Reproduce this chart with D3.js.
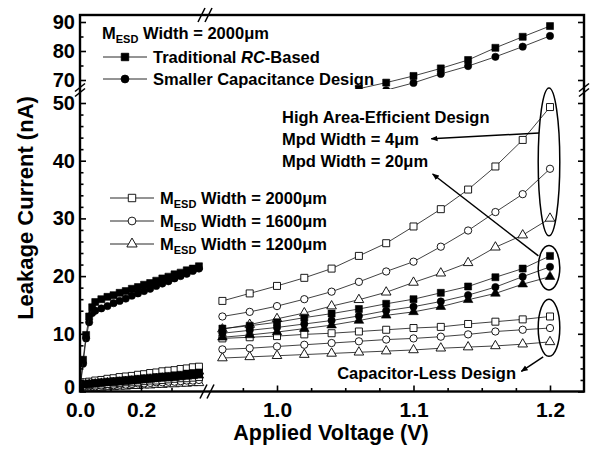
<!DOCTYPE html>
<html>
<head>
<meta charset="utf-8">
<script src="https://cdn.jsdelivr.net/npm/d3@7"></script>
<style>
body { margin: 0; background: #fff; }
svg { display: block; font-family: "Liberation Sans", Arial, sans-serif; font-weight: bold; }
</style>
</head>
<body>
<svg id="chart" width="594" height="449"></svg>
<script>
"use strict";

// ---- data (V, nA) ----
// right part of the x axis (0.96 .. 1.2 V)
const vRight = [0.96, 0.98, 1.00, 1.02, 1.04, 1.06, 1.08, 1.10, 1.12, 1.14, 1.16, 1.18, 1.20];
// left part of the x axis (0 .. 0.4 V)
const vLeftLow = [0.01, 0.03, 0.05, 0.07, 0.09, 0.11, 0.13, 0.15, 0.17, 0.19, 0.21, 0.23, 0.25, 0.27, 0.29, 0.31, 0.33, 0.35, 0.37, 0.39];
const vLeftTop = [0.00, 0.01, 0.02, 0.03, 0.04, 0.05, 0.07, 0.09, 0.11, 0.13, 0.15, 0.17, 0.19, 0.21, 0.23, 0.25, 0.27, 0.29, 0.31, 0.33, 0.35, 0.37, 0.39];
// upper (broken) part, only points above ~67 nA show
const vRcUpper = [1.06, 1.08, 1.10, 1.12, 1.14, 1.16, 1.18, 1.20];
const vScUpper = [1.08, 1.10, 1.12, 1.14, 1.16, 1.18, 1.20];

// high area-efficient design, Mpd width = 4um (open markers)
const mpd4_2000_L = [1.6, 1.7, 1.9, 2.0, 2.2, 2.3, 2.5, 2.6, 2.7, 2.9, 3.0, 3.2, 3.3, 3.5, 3.6, 3.7, 3.9, 4.0, 4.2, 4.3];
const mpd4_1600_L = [1.4, 1.5, 1.7, 1.8, 1.9, 2.1, 2.2, 2.3, 2.4, 2.6, 2.7, 2.8, 3.0, 3.1, 3.2, 3.4, 3.5, 3.6, 3.8, 3.9];
const mpd4_1200_L = [1.3, 1.4, 1.5, 1.6, 1.8, 1.9, 2.0, 2.1, 2.2, 2.3, 2.5, 2.6, 2.7, 2.8, 2.9, 3.0, 3.2, 3.3, 3.4, 3.5];
const mpd4_2000_R = [15.7, 17.0, 18.3, 19.7, 21.3, 23.5, 25.7, 28.6, 31.6, 35.0, 39.0, 43.6, 49.3];
const mpd4_1600_R = [13.0, 13.8, 14.8, 16.0, 17.3, 19.0, 20.8, 22.5, 25.1, 27.9, 31.1, 34.2, 38.6];
const mpd4_1200_R = [10.8, 11.6, 12.6, 13.6, 14.8, 15.9, 17.2, 18.9, 20.5, 22.3, 25.0, 27.1, 30.0];

// high area-efficient design, Mpd width = 20um (filled markers)
const mpd20_2000_L = [1.3, 1.4, 1.5, 1.6, 1.7, 1.8, 1.9, 2.0, 2.1, 2.2, 2.3, 2.4, 2.5, 2.6, 2.7, 2.8, 2.9, 3.1, 3.2, 3.3];
const mpd20_1600_L = [1.2, 1.3, 1.4, 1.5, 1.6, 1.7, 1.8, 1.9, 1.9, 2.0, 2.1, 2.2, 2.3, 2.4, 2.5, 2.6, 2.7, 2.8, 2.9, 3.0];
const mpd20_1200_L = [1.1, 1.2, 1.3, 1.4, 1.5, 1.5, 1.6, 1.7, 1.8, 1.9, 2.0, 2.1, 2.2, 2.3, 2.3, 2.4, 2.5, 2.6, 2.7, 2.8];
const mpd20_2000_R = [10.9, 11.4, 12.0, 12.8, 13.5, 14.3, 15.2, 16.0, 17.1, 18.2, 19.8, 21.3, 23.5];
const mpd20_1600_R = [10.1, 10.6, 11.1, 11.7, 12.3, 13.1, 14.0, 14.7, 15.6, 16.7, 18.1, 19.9, 21.6];
const mpd20_1200_R = [9.4, 9.8, 10.3, 10.9, 11.5, 12.3, 13.2, 13.8, 14.7, 15.9, 17.0, 18.6, 19.9];

// capacitor-less design (open markers)
const capless_2000_L = [1.0, 1.1, 1.2, 1.2, 1.3, 1.4, 1.5, 1.6, 1.6, 1.7, 1.8, 1.9, 1.9, 2.0, 2.1, 2.2, 2.3, 2.3, 2.4, 2.5];
const capless_1600_L = [0.8, 0.9, 0.9, 1.0, 1.0, 1.1, 1.2, 1.2, 1.3, 1.4, 1.4, 1.5, 1.6, 1.6, 1.7, 1.7, 1.8, 1.9, 1.9, 2.0];
const capless_1200_L = [0.6, 0.6, 0.7, 0.7, 0.8, 0.8, 0.9, 0.9, 1.0, 1.0, 1.1, 1.1, 1.2, 1.2, 1.3, 1.3, 1.4, 1.4, 1.5, 1.5];
const capless_2000_R = [9.2, 9.4, 9.6, 9.9, 10.1, 10.4, 10.7, 11.0, 11.2, 11.7, 12.1, 12.5, 13.0];
const capless_1600_R = [7.3, 7.5, 7.8, 8.1, 8.4, 8.7, 9.0, 9.2, 9.5, 9.9, 10.4, 10.7, 11.0];
const capless_1200_R = [5.8, 6.0, 6.2, 6.4, 6.6, 6.8, 7.0, 7.2, 7.5, 7.7, 7.9, 8.2, 8.6];

// M_ESD = 2000um: traditional RC-based and smaller capacitance design
const rcBased_L = [0.4, 5.5, 9.8, 13.0, 14.6, 15.5, 16.0, 16.4, 16.7, 17.1, 17.4, 17.8, 18.1, 18.5, 18.8, 19.2, 19.6, 19.9, 20.3, 20.6, 21.0, 21.3, 21.7];
const smallCap_L = [0.3, 4.8, 9.2, 12.0, 13.6, 14.0, 14.4, 14.8, 15.3, 15.7, 16.1, 16.6, 17.0, 17.4, 17.8, 18.3, 18.7, 19.1, 19.6, 20.0, 20.4, 20.9, 21.3];
const rcBased_U = [67.0, 69.1, 71.4, 74.0, 76.9, 81.1, 84.9, 88.6];
const smallCap_U = [66.5, 69.0, 72.1, 74.8, 78.0, 81.5, 85.2];

// tick values
const yTicksLow = [0, 10, 20, 30, 40, 50];
const yMinorLow = [2, 4, 6, 8, 12, 14, 16, 18, 22, 24, 26, 28, 32, 34, 36, 38, 42, 44, 46, 48];
const yTicksUp = [70, 80, 90];
const yMinorUp = [75, 85];
const xTicksLeft = [0.0, 0.2];
const xMinorLeft = [0.1, 0.3];
const xTicksRight = [1.0, 1.1, 1.2];
const xMinorRight = [0.975, 1.025, 1.05, 1.075, 1.125, 1.15, 1.175];

// ---- layout ----
const plotLeft = 80, plotRight = 584, plotTop = 15, plotBottom = 391.5;
const upperBottom = 89, lowerTop = 93;

const svg = d3.select("#chart");
svg.append("rect").attr("width", 594).attr("height", 449).attr("fill", "#fff");

const xL = d3.scaleLinear().domain([0, 0.2]).range([80, 141]);
const xR = d3.scaleLinear().domain([1.0, 1.2]).range([277, 550]);
const yLow = d3.scaleLinear().domain([0, 50]).range([plotBottom, 103]);
const yUp = d3.scaleLinear().domain([70, 90]).range([80, 22]);

// clip regions for the two y parts
const defs = svg.append("defs");
defs.append("clipPath").attr("id", "clipLow").append("rect")
    .attr("x", plotLeft).attr("y", lowerTop)
    .attr("width", plotRight - plotLeft).attr("height", plotBottom - lowerTop);
defs.append("clipPath").attr("id", "clipUp").append("rect")
    .attr("x", plotLeft).attr("y", plotTop)
    .attr("width", plotRight - plotLeft).attr("height", upperBottom - plotTop);
defs.append("marker").attr("id", "arrowHead")
    .attr("viewBox", "0 0 10 10").attr("refX", 9).attr("refY", 5)
    .attr("markerWidth", 7).attr("markerHeight", 7).attr("markerUnits", "userSpaceOnUse")
    .attr("orient", "auto")
    .append("path").attr("d", "M0,1 L10,5 L0,9 Z").attr("fill", "#000");

const symbolOf = { square: d3.symbolSquare, circle: d3.symbolCircle, triangle: d3.symbolTriangle };
const sizeOf = { square: 49, circle: 42, triangle: 40 };

// draw one series part: thin line plus markers
function drawPart(g, xs, ys, xScale, yScale, marker, filled) {
    let pts = xs.map(function (v, i) { return [v, ys[i]] });
    g.append("path")
        .datum(pts)
        .attr("fill", "none")
        .attr("stroke", "#111")
        .attr("stroke-width", 0.8)
        .attr("d", d3.line()
            .x(function (d) { return xScale(d[0]) })
            .y(function (d) { return yScale(d[1]) })
        );
    g.selectAll(null)
        .data(pts)
        .enter().append("path")
        .attr("transform", function (d) { return "translate(" + xScale(d[0]) + "," + yScale(d[1]) + ")" })
        .attr("d", d3.symbol().type(symbolOf[marker]).size(sizeOf[marker]))
        .attr("fill", filled ? "#000" : "#fff")
        .attr("stroke", "#000")
        .attr("stroke-width", filled ? 0.6 : 0.9);
}

const lowG = svg.append("g").attr("clip-path", "url(#clipLow)");
const upG = svg.append("g").attr("clip-path", "url(#clipUp)");

// open series first, filled on top
const lowSeries = [
    { m: "triangle", f: false, l: capless_1200_L, r: capless_1200_R },
    { m: "circle", f: false, l: capless_1600_L, r: capless_1600_R },
    { m: "square", f: false, l: capless_2000_L, r: capless_2000_R },
    { m: "triangle", f: false, l: mpd4_1200_L, r: mpd4_1200_R },
    { m: "circle", f: false, l: mpd4_1600_L, r: mpd4_1600_R },
    { m: "square", f: false, l: mpd4_2000_L, r: mpd4_2000_R },
    { m: "triangle", f: true, l: mpd20_1200_L, r: mpd20_1200_R },
    { m: "circle", f: true, l: mpd20_1600_L, r: mpd20_1600_R },
    { m: "square", f: true, l: mpd20_2000_L, r: mpd20_2000_R }
];
lowSeries.forEach(function (s) {
    drawPart(lowG, vLeftLow, s.l, xL, yLow, s.m, s.f);
    drawPart(lowG, vRight, s.r, xR, yLow, s.m, s.f);
});
drawPart(lowG, vLeftTop, smallCap_L, xL, yLow, "circle", true);
drawPart(lowG, vLeftTop, rcBased_L, xL, yLow, "square", true);
drawPart(upG, vScUpper, smallCap_U, xR, yUp, "circle", true);
drawPart(upG, vRcUpper, rcBased_U, xR, yUp, "square", true);

// ---- axes ----
function styleAxis(sel, fontSize) {
    sel.select(".domain").remove();
    sel.attr("font-family", null).attr("font-size", fontSize);
    sel.selectAll("line").attr("stroke", "#000").attr("stroke-width", 1.6);
    sel.selectAll("text").attr("fill", "#000").attr("font-weight", "bold");
}
function addYAxis(scale, majors, minors) {
    svg.append("g").attr("transform", "translate(" + plotLeft + ",0)")
        .call(d3.axisLeft(scale).tickValues(majors).tickSize(-6).tickPadding(5).tickFormat(d3.format("d")))
        .call(styleAxis, 20)
        // keep the "0" clear of the "0.0" below it
        .selectAll(".tick text").filter(function (d) { return d === 0 }).attr("y", -4);
    svg.append("g").attr("transform", "translate(" + plotLeft + ",0)")
        .call(d3.axisLeft(scale).tickValues(minors).tickSize(-3.5).tickFormat(""))
        .call(styleAxis, 20);
    svg.append("g").attr("transform", "translate(" + plotRight + ",0)")
        .call(d3.axisRight(scale).tickValues(majors).tickSize(-6).tickFormat(""))
        .call(styleAxis, 20);
    svg.append("g").attr("transform", "translate(" + plotRight + ",0)")
        .call(d3.axisRight(scale).tickValues(minors).tickSize(-3.5).tickFormat(""))
        .call(styleAxis, 20);
}
addYAxis(yLow, yTicksLow, yMinorLow);
addYAxis(yUp, yTicksUp, yMinorUp);

function addXAxis(scale, majors, minors) {
    svg.append("g").attr("transform", "translate(0," + plotBottom + ")")
        .call(d3.axisBottom(scale).tickValues(majors).tickSize(-6).tickPadding(11).tickFormat(d3.format(".1f")))
        .call(styleAxis, 21);
    svg.append("g").attr("transform", "translate(0," + plotBottom + ")")
        .call(d3.axisBottom(scale).tickValues(minors).tickSize(-3.5).tickFormat(""))
        .call(styleAxis, 21);
}
addXAxis(xL, xTicksLeft, xMinorLeft);
addXAxis(xR, xTicksRight, xMinorRight);

// frame
svg.append("rect")
    .attr("x", plotLeft).attr("y", plotTop)
    .attr("width", plotRight - plotLeft).attr("height", plotBottom - plotTop)
    .attr("fill", "none").attr("stroke", "#000").attr("stroke-width", 2.4);

// axis break marks
function breakV(x, y) {
    [-2.5, 2.5].forEach(function (d) {
        svg.append("line")
            .attr("x1", x - 5).attr("y1", y + d + 4)
            .attr("x2", x + 5).attr("y2", y + d - 4)
            .attr("stroke", "#000").attr("stroke-width", 1.6);
    });
}
function breakH(x, y) {
    [-3.5, 3.5].forEach(function (d) {
        svg.append("line")
            .attr("x1", x + d - 3.5).attr("y1", y + 7)
            .attr("x2", x + d + 3.5).attr("y2", y - 7)
            .attr("stroke", "#000").attr("stroke-width", 1.6);
    });
}
breakV(plotLeft, 90);
breakV(plotRight, 90);
breakH(205, plotTop);
breakH(207, plotBottom);

// axis titles
svg.append("text")
    .attr("transform", "translate(33,208) rotate(-90)")
    .attr("text-anchor", "middle")
    .attr("font-size", 22)
    .text("Leakage Current (nA)");
svg.append("text")
    .attr("x", 331).attr("y", 440)
    .attr("text-anchor", "middle")
    .attr("font-size", 21.5)
    .text("Applied Voltage (V)");

// ---- legends ----
function mesdLabel(x, y, width) {
    let t = svg.append("text").attr("x", x).attr("y", y).attr("font-size", 16.5);
    t.append("tspan").text("M");
    t.append("tspan").attr("font-size", 11).attr("dy", 3.5).text("ESD");
    t.append("tspan").attr("dy", -3.5).text(" Width = " + width + "\u03bcm");
    return t;
}
function legendKey(x1, x2, y, marker, filled) {
    svg.append("line").attr("x1", x1).attr("x2", x2).attr("y1", y).attr("y2", y)
        .attr("stroke", "#111").attr("stroke-width", 0.9);
    svg.append("path")
        .attr("transform", "translate(" + (x1 + x2) / 2 + "," + y + ")")
        .attr("d", d3.symbol().type(symbolOf[marker]).size(sizeOf[marker] + 6))
        .attr("fill", filled ? "#000" : "#fff")
        .attr("stroke", "#000").attr("stroke-width", 0.9);
}

// top-left legend
mesdLabel(102, 39, 2000);
legendKey(103, 147, 57, "square", true);
let rcText = svg.append("text").attr("x", 153).attr("y", 63).attr("font-size", 16.5);
rcText.append("tspan").text("Traditional ");
rcText.append("tspan").attr("font-style", "italic").text("RC");
rcText.append("tspan").text("-Based");
legendKey(103, 147, 79, "circle", true);
svg.append("text").attr("x", 153).attr("y", 85).attr("font-size", 16.5).text("Smaller Capacitance Design");

// middle-left legend
const mesdWidths = [2000, 1600, 1200];
const mesdMarkers = ["square", "circle", "triangle"];
mesdWidths.forEach(function (w, i) {
    let y = 198 + i * 23;
    legendKey(110, 154, y, mesdMarkers[i], false);
    mesdLabel(160, y + 6, w);
});

// ---- annotations (in data units) ----
svg.append("text").attr("x", 282).attr("y", 123).attr("font-size", 16.5).text("High Area-Efficient Design");
svg.append("text").attr("x", 282).attr("y", 145).attr("font-size", 16.5).text("Mpd Width = 4\u03bcm");
svg.append("text").attr("x", 282).attr("y", 167).attr("font-size", 16.5).text("Mpd Width = 20\u03bcm");
svg.append("text").attr("x", 516).attr("y", 379).attr("text-anchor", "end").attr("font-size", 16.5).text("Capacitor-Less Design");

const ellipses = [
    { v: 1.2, lo: 27.0, hi: 52.6 },
    { v: 1.2, lo: 17.6, hi: 25.3 },
    { v: 1.2, lo: 6.1, hi: 16.0 }
];
ellipses.forEach(function (e) {
    svg.append("ellipse")
        .attr("cx", xR(e.v) - 1)
        .attr("cy", (yLow(e.lo) + yLow(e.hi)) / 2)
        .attr("rx", 10.8)
        .attr("ry", (yLow(e.lo) - yLow(e.hi)) / 2)
        .attr("fill", "none").attr("stroke", "#000").attr("stroke-width", 1.5);
});

const arrows = [
    { from: [1.192, 44.8], to: [1.113, 43.8] },
    { from: [1.1915, 23.5], to: [1.114, 37.7] },
    { from: [1.195, 6.0], to: [1.179, 3.5] }
];
arrows.forEach(function (a) {
    svg.append("line")
        .attr("x1", xR(a.from[0])).attr("y1", yLow(a.from[1]))
        .attr("x2", xR(a.to[0])).attr("y2", yLow(a.to[1]))
        .attr("stroke", "#000").attr("stroke-width", 1.5)
        .attr("marker-end", "url(#arrowHead)");
});
</script>
</body>
</html>
